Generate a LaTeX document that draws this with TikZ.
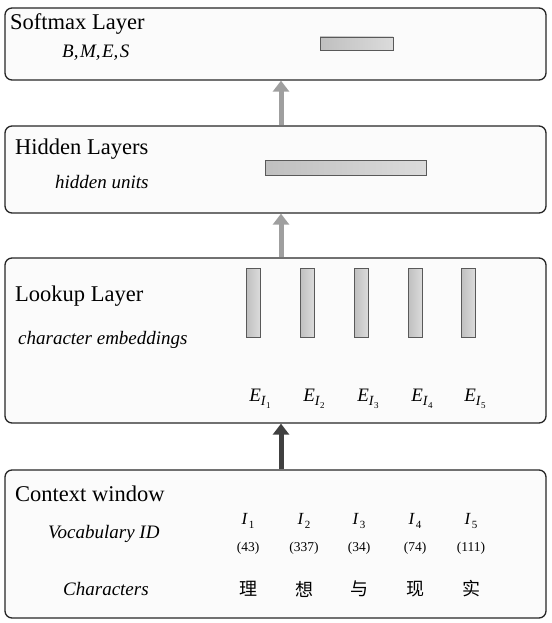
\documentclass[tikz,border=0pt]{standalone}
\usepackage{fontspec}
\setmainfont{Liberation Serif}
\newfontfamily\cjk{Noto Sans CJK SC}
\usepackage{tikz}
\usetikzlibrary{arrows.meta}
\tikzset{
  layer/.style={draw=black!85,line width=1.3pt,rounded corners=7pt,fill=gray!3,
    minimum width=541pt,inner sep=0pt},
  unit/.style={draw=gray!70!black,line width=0.8pt,left color=gray!50,right color=gray!28,inner sep=0pt},
  title/.style={anchor=west,inner sep=0pt,font=\fontsize{22.5}{24}\selectfont},
  note/.style={anchor=west,inner sep=0pt,font=\fontsize{19}{21}\selectfont\itshape},
  up/.style={-{Triangle[width=16pt,length=11pt]},line width=5pt},
}
\newcommand{\Elabel}[1]{\textit{E}\raisebox{-0.45ex}{\fontsize{14}{14}\selectfont\textit{I}\raisebox{-0.4ex}{\fontsize{9}{9}\selectfont #1}}}
\newcommand{\Ilabel}[1]{\textit{I}\kern1pt\raisebox{-0.45ex}{\fontsize{11}{11}\selectfont #1}}

\begin{document}
\begin{tikzpicture}[x=1pt,y=-1pt]
\useasboundingbox (0,0) rectangle (551,623);
% the four layers
\node[layer,minimum height=72pt] (softmax) at (275.5,44) {};
\node[layer,minimum height=87pt] (hidden) at (275.5,169.5) {};
\node[layer,minimum height=165pt] (lookup) at (275.5,340.5) {};
\node[layer,minimum height=148pt] (context) at (275.5,544) {};

% layer names
\node[title] (tsoft) at (10,24) {Softmax Layer};
\node[note] (nsoft) at (62,53) {B,\kern1.5pt M,\kern1.5pt E,\kern1.5pt S};
\node[title] (thid) at (15,149) {Hidden Layers};
\node[note] (nhid) at (55,182) {hidden units};
\node[title] (tlook) at (15,296) {Lookup Layer};
\node[note] (nlook) at (18,340) {character embeddings};
\node[title] (tctx) at (15,494) {Context window};
\node[note] (nvoc) at (48,534) {Vocabulary ID};
\node[note] (nchar) at (63,589) {Characters};

% units
\node[unit,minimum width=73pt,minimum height=13pt] (usoft) at (356.5,43.5) {};
\node[unit,minimum width=161pt,minimum height=15pt] (uhid) at (345.5,167.5) {};
\foreach \i/\x in {1/253,2/307,3/361,4/415,5/468} {
  \node[unit,minimum width=14pt,minimum height=69pt] (emb\i) at (\x,302.5) {};
  \node[font=\fontsize{19}{21}\selectfont] (e\i) at (\x+7,399) {\Elabel{\i}};
}

% context window columns
\foreach \i/\x/\v/\c in {1/248/43/理,2/304/337/想,3/359/34/与,4/415/74/现,5/471/111/实} {
  \node[font=\fontsize{17}{19}\selectfont] (id\i) at (\x,521) {\Ilabel{\i}};
  \node[font=\fontsize{13.5}{15}\selectfont] (val\i) at (\x,548) {(\v)};
  \node[font=\fontsize{18}{20}\selectfont\cjk] (ch\i) at (\x,589) {\c};
}

% arrows between layers
\coordinate (mid) at (281,0);
\draw[up,gray!75] (hidden.north -| mid) -- (softmax.south -| mid);
\draw[up,gray!75] (lookup.north -| mid) -- (hidden.south -| mid);
\draw[up,black!75] (context.north -| mid) -- (lookup.south -| mid);
\end{tikzpicture}
\end{document}
